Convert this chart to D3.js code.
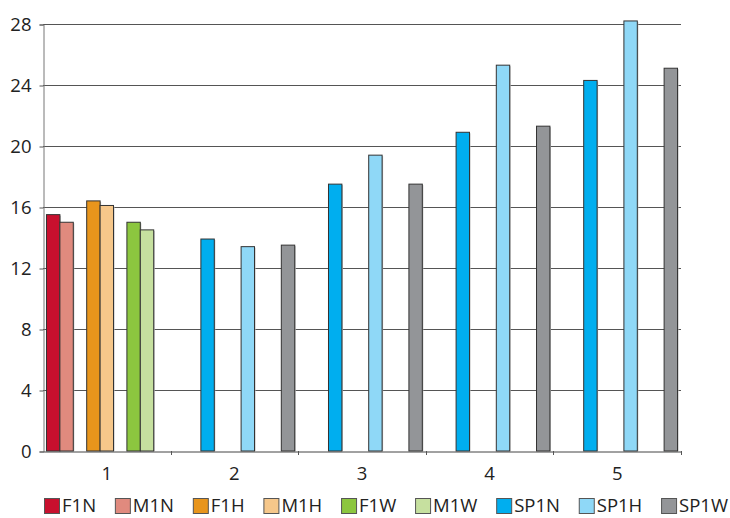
<!DOCTYPE html>
<html>
<head>
<meta charset="utf-8">
<script src="https://cdn.jsdelivr.net/npm/d3@7"></script>
<style>
  html, body { margin: 0; padding: 0; background: #fff; }
  svg { display: block; }
  text { font-family: "Open Sans", "Noto Sans", sans-serif; fill: #222; }
</style>
</head>
<body>
<svg id="chart" width="730" height="518"></svg>
<script>
// Groups along the x axis
const categories = ["1", "2", "3", "4", "5"];

// Series names in legend order
const seriesNames = ["F1N", "M1N", "F1H", "M1H", "F1W", "M1W", "SP1N", "SP1H", "SP1W"];

// Order of the bar slots inside each group
const slotOrder = ["F1N", "M1N", "SP1N", "F1H", "M1H", "SP1H", "F1W", "M1W", "SP1W"];

// Values per series (null = no bar in that group)
const F1N  = [15.5, null, null, null, null];
const M1N  = [15.0, null, null, null, null];
const F1H  = [16.4, null, null, null, null];
const M1H  = [16.1, null, null, null, null];
const F1W  = [15.0, null, null, null, null];
const M1W  = [14.5, null, null, null, null];
const SP1N = [null, 13.9, 17.5, 20.9, 24.3];
const SP1H = [null, 13.4, 19.4, 25.3, 28.2];
const SP1W = [null, 13.5, 17.5, 21.3, 25.1];

const yTicks = [0, 4, 8, 12, 16, 20, 24, 28];

const seriesValues = { F1N, M1N, F1H, M1H, F1W, M1W, SP1N, SP1H, SP1W };
const seriesColors = {
  F1N: "#c8102e", M1N: "#e08a7e", F1H: "#e8951c", M1H: "#f6c78a",
  F1W: "#8cc63f", M1W: "#c6e09f", SP1N: "#00aeef", SP1H: "#8fd8f7", SP1W: "#939598"
};

const svg = d3.select("#chart");
const plotLeft = 43, plotRight = 681, plotTop = 24, plotBottom = 451;

const x0 = d3.scaleBand().domain(categories).range([plotLeft, plotRight]).padding(0);
const x1 = d3.scaleBand().domain(slotOrder).range([0, x0.bandwidth()])
  .paddingInner(0).paddingOuter(0.26);
const y = d3.scaleLinear().domain([0, 28]).range([plotBottom, plotTop]);

// Horizontal gridlines
svg.append("g")
  .selectAll("line")
  .data(yTicks.filter(d => d > 0))
  .join("line")
  .attr("x1", plotLeft).attr("x2", plotRight)
  .attr("y1", d => Math.round(y(d)) + 0.5).attr("y2", d => Math.round(y(d)) + 0.5)
  .attr("stroke", "#555").attr("stroke-width", 1);

// Y axis
const yAxis = svg.append("g")
  .attr("transform", `translate(${plotLeft + 0.5},0.5)`)
  .call(d3.axisLeft(y).tickValues(yTicks).tickSize(4).tickPadding(8).tickFormat(d3.format("d")));
yAxis.select(".domain").attr("stroke", "#777");
yAxis.selectAll(".tick line").attr("stroke", "#555");
yAxis.selectAll(".tick text").style("font-size", "18.5px").attr("fill", "#222");

// Bars
const barData = [];
seriesNames.forEach(name => {
  seriesValues[name].forEach((v, i) => {
    if (v !== null) barData.push({ name, cat: categories[i], value: v });
  });
});

const bars = svg.append("g");
bars.selectAll("rect.shadow")
  .data(barData)
  .join("rect")
  .attr("class", "shadow")
  .attr("x", d => x0(d.cat) + x1(d.name) + 1)
  .attr("y", d => y(d.value) + 1)
  .attr("width", x1.bandwidth())
  .attr("height", d => y(0) - y(d.value) - 1)
  .attr("fill", "#bbb");
bars.selectAll("rect.bar")
  .data(barData)
  .join("rect")
  .attr("class", "bar")
  .attr("x", d => x0(d.cat) + x1(d.name))
  .attr("y", d => y(d.value))
  .attr("width", x1.bandwidth())
  .attr("height", d => y(0) - y(d.value))
  .attr("fill", d => seriesColors[d.name])
  .attr("stroke", "#333")
  .attr("stroke-width", 1);

// X axis
const xAxis = svg.append("g")
  .attr("transform", `translate(0,${plotBottom + 0.5})`)
  .call(d3.axisBottom(x0).tickSize(0).tickPadding(15));
xAxis.select(".domain").attr("stroke", "#444");
xAxis.selectAll(".tick text").style("font-size", "18.5px").attr("fill", "#222");
// Boundary ticks between groups
const boundaries = categories.slice(1).map(c => x0(c)).concat([plotRight]);
svg.append("g")
  .selectAll("line")
  .data(boundaries)
  .join("line")
  .attr("x1", d => Math.round(d) + 0.5)
  .attr("x2", d => Math.round(d) + 0.5)
  .attr("y1", plotBottom).attr("y2", plotBottom + 4)
  .attr("stroke", "#555");

// Legend: swatch + label, spread across the row from x=44 to x=728
const legendLeft = 44, legendRight = 728, swatch = 16, labelGap = 2;
const legend = svg.append("g").attr("transform", `translate(${legendLeft},498)`);
const items = seriesNames.map(name => {
  const g = legend.append("g");
  g.append("rect")
    .attr("x", 0.5).attr("y", 0.5).attr("width", swatch - 1).attr("height", swatch - 1)
    .attr("fill", seriesColors[name]).attr("stroke", "#555");
  const t = g.append("text")
    .attr("x", swatch + labelGap).attr("y", swatch - 2)
    .style("font-size", "18.5px")
    .text(name);
  return { g, w: swatch + labelGap + t.node().getComputedTextLength() };
});
const totalW = d3.sum(items, d => d.w);
const gap = (legendRight - legendLeft - totalW) / (items.length - 1);
let lx = 0;
items.forEach(it => {
  it.g.attr("transform", `translate(${lx},0)`);
  lx += it.w + gap;
});
</script>
</body>
</html>
